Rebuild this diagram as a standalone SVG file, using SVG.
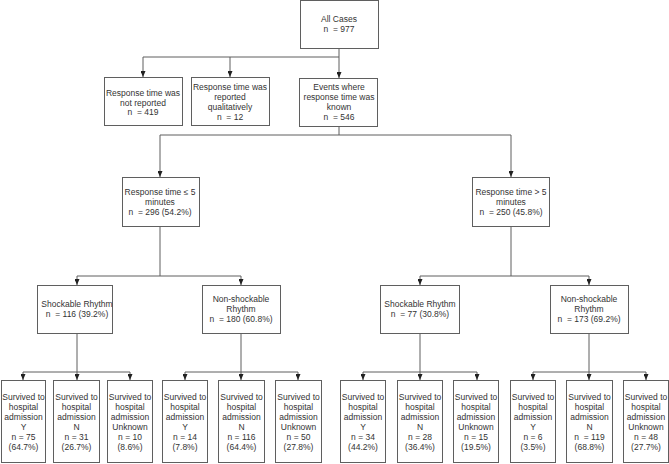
<svg xmlns="http://www.w3.org/2000/svg" width="669" height="464" viewBox="0 0 669 464">
<style>
.b{fill:#fff;stroke:#5f5f5f;stroke-width:1}
.t{font-family:"Liberation Sans",Arial,sans-serif;font-size:8.5px;fill:#333;text-anchor:middle;white-space:pre}
.c{fill:none;stroke:#5f5f5f;stroke-width:1}
</style>
<defs>
<marker id="a" viewBox="0 0 6 5" refX="6" refY="2.5" markerWidth="6" markerHeight="5" orient="auto" markerUnits="userSpaceOnUse">
<path d="M0,0L6,2.5L0,5z" fill="#222"/>
</marker>
</defs>
<rect width="669" height="464" fill="#fff"/>
<g id="connectors">
<path class="c" d="M339,48V78" marker-end="url(#a)"/>
<path class="c" d="M339,57H143V77" marker-end="url(#a)"/>
<path class="c" d="M230,57V77" marker-end="url(#a)"/>
<path class="c" d="M339,126V135H160V177" marker-end="url(#a)"/>
<path class="c" d="M339,135H511V177" marker-end="url(#a)"/>
<path class="c" d="M160,226V276H77V285" marker-end="url(#a)"/>
<path class="c" d="M160,276H241V285" marker-end="url(#a)"/>
<path class="c" d="M511,226V276H420V285" marker-end="url(#a)"/>
<path class="c" d="M511,276H589V285" marker-end="url(#a)"/>
<path class="c" d="M77,333V380" marker-end="url(#a)"/>
<path class="c" d="M77,372H23V380" marker-end="url(#a)"/>
<path class="c" d="M77,372H130V380" marker-end="url(#a)"/>
<path class="c" d="M241,333V380" marker-end="url(#a)"/>
<path class="c" d="M241,372H185V380" marker-end="url(#a)"/>
<path class="c" d="M241,372H298V380" marker-end="url(#a)"/>
<path class="c" d="M420,333V380" marker-end="url(#a)"/>
<path class="c" d="M420,372H363V380" marker-end="url(#a)"/>
<path class="c" d="M420,372H477V380" marker-end="url(#a)"/>
<path class="c" d="M589,333V380" marker-end="url(#a)"/>
<path class="c" d="M589,372H533V380" marker-end="url(#a)"/>
<path class="c" d="M589,372H646V380" marker-end="url(#a)"/>
</g>
<g id="all">
<rect class="b" x="300.5" y="0.5" width="78" height="48"/>
<text class="t" x="339" y="22">All Cases</text>
<text class="t" x="339" y="32">n  = 977</text>
</g>
<g id="notreported">
<rect class="b" x="104.5" y="77.5" width="78" height="48"/>
<text class="t" x="143" y="96">Response time was</text>
<text class="t" x="143" y="105.5">not reported</text>
<text class="t" x="143" y="115">n  = 419</text>
</g>
<g id="qualitative">
<rect class="b" x="191.5" y="77.5" width="78" height="48"/>
<text class="t" x="230" y="90">Response time was</text>
<text class="t" x="230" y="100">reported</text>
<text class="t" x="230" y="110">qualitatively</text>
<text class="t" x="230" y="120">n  = 12</text>
</g>
<g id="known">
<rect class="b" x="299.5" y="78.5" width="78" height="48"/>
<text class="t" x="339" y="90">Events where</text>
<text class="t" x="339" y="100">response time was</text>
<text class="t" x="339" y="110">known</text>
<text class="t" x="339" y="120">n  = 546</text>
</g>
<g id="le5">
<rect class="b" x="122.5" y="177.5" width="77" height="49"/>
<text class="t" x="160" y="195">Response time ≤ 5</text>
<text class="t" x="160" y="205">minutes</text>
<text class="t" x="160" y="214.5">n  = 296 (54.2%)</text>
</g>
<g id="gt5">
<rect class="b" x="472.5" y="177.5" width="77" height="49"/>
<text class="t" x="511" y="195">Response time &gt; 5</text>
<text class="t" x="511" y="205">minutes</text>
<text class="t" x="511" y="214.5">n  = 250 (45.8%)</text>
</g>
<g id="shock1">
<rect class="b" x="37.5" y="285.5" width="75" height="48"/>
<text class="t" x="77" y="307">Shockable Rhythm</text>
<text class="t" x="77" y="317">n  = 116 (39.2%)</text>
</g>
<g id="nonshock1">
<rect class="b" x="202.5" y="285.5" width="78" height="48"/>
<text class="t" x="241" y="302">Non-shockable</text>
<text class="t" x="241" y="312">Rhythm</text>
<text class="t" x="241" y="321.5">n  = 180 (60.8%)</text>
</g>
<g id="shock2">
<rect class="b" x="380.5" y="285.5" width="79" height="48"/>
<text class="t" x="420" y="307">Shockable Rhythm</text>
<text class="t" x="420" y="317">n  = 77 (30.8%)</text>
</g>
<g id="nonshock2">
<rect class="b" x="550.5" y="285.5" width="78" height="48"/>
<text class="t" x="589" y="302">Non-shockable</text>
<text class="t" x="589" y="312">Rhythm</text>
<text class="t" x="589" y="321.5">n  = 173 (69.2%)</text>
</g>
<g id="s1y">
<rect class="b" x="1.5" y="380.5" width="44" height="82"/>
<text class="t" x="23.5" y="400">Survived to</text><text class="t" x="23.5" y="410">hospital</text><text class="t" x="23.5" y="420">admission</text><text class="t" x="23.5" y="430">Y</text><text class="t" x="23.5" y="440">n = 75</text><text class="t" x="23.5" y="450">(64.7%)</text>
</g>
<g id="s1n">
<rect class="b" x="53.5" y="380.5" width="46" height="82"/>
<text class="t" x="76.5" y="400">Survived to</text><text class="t" x="76.5" y="410">hospital</text><text class="t" x="76.5" y="420">admission</text><text class="t" x="76.5" y="430">N</text><text class="t" x="76.5" y="440">n = 31</text><text class="t" x="76.5" y="450">(26.7%)</text>
</g>
<g id="s1u">
<rect class="b" x="107.5" y="380.5" width="45" height="82"/>
<text class="t" x="130" y="400">Survived to</text><text class="t" x="130" y="410">hospital</text><text class="t" x="130" y="420">admission</text><text class="t" x="130" y="430">Unknown</text><text class="t" x="130" y="440">n = 10</text><text class="t" x="130" y="450">(8.6%)</text>
</g>
<g id="n1y">
<rect class="b" x="162.5" y="380.5" width="45" height="82"/>
<text class="t" x="185" y="400">Survived to</text><text class="t" x="185" y="410">hospital</text><text class="t" x="185" y="420">admission</text><text class="t" x="185" y="430">Y</text><text class="t" x="185" y="440">n = 14</text><text class="t" x="185" y="450">(7.8%)</text>
</g>
<g id="n1n">
<rect class="b" x="218.5" y="380.5" width="46" height="82"/>
<text class="t" x="241.5" y="400">Survived to</text><text class="t" x="241.5" y="410">hospital</text><text class="t" x="241.5" y="420">admission</text><text class="t" x="241.5" y="430">N</text><text class="t" x="241.5" y="440">n = 116</text><text class="t" x="241.5" y="450">(64.4%)</text>
</g>
<g id="n1u">
<rect class="b" x="275.5" y="380.5" width="46" height="82"/>
<text class="t" x="298.5" y="400">Survived to</text><text class="t" x="298.5" y="410">hospital</text><text class="t" x="298.5" y="420">admission</text><text class="t" x="298.5" y="430">Unknown</text><text class="t" x="298.5" y="440">n = 50</text><text class="t" x="298.5" y="450">(27.8%)</text>
</g>
<g id="s2y">
<rect class="b" x="340.5" y="380.5" width="45" height="82"/>
<text class="t" x="363" y="400">Survived to</text><text class="t" x="363" y="410">hospital</text><text class="t" x="363" y="420">admission</text><text class="t" x="363" y="430">Y</text><text class="t" x="363" y="440">n = 34</text><text class="t" x="363" y="450">(44.2%)</text>
</g>
<g id="s2n">
<rect class="b" x="397.5" y="380.5" width="45" height="82"/>
<text class="t" x="420" y="400">Survived to</text><text class="t" x="420" y="410">hospital</text><text class="t" x="420" y="420">admission</text><text class="t" x="420" y="430">N</text><text class="t" x="420" y="440">n = 28</text><text class="t" x="420" y="450">(36.4%)</text>
</g>
<g id="s2u">
<rect class="b" x="453.5" y="380.5" width="45" height="82"/>
<text class="t" x="476" y="400">Survived to</text><text class="t" x="476" y="410">hospital</text><text class="t" x="476" y="420">admission</text><text class="t" x="476" y="430">Unknown</text><text class="t" x="476" y="440">n = 15</text><text class="t" x="476" y="450">(19.5%)</text>
</g>
<g id="n2y">
<rect class="b" x="510.5" y="380.5" width="45" height="82"/>
<text class="t" x="533" y="400">Survived to</text><text class="t" x="533" y="410">hospital</text><text class="t" x="533" y="420">admission</text><text class="t" x="533" y="430">Y</text><text class="t" x="533" y="440">n = 6</text><text class="t" x="533" y="450">(3.5%)</text>
</g>
<g id="n2n">
<rect class="b" x="566.5" y="380.5" width="46" height="82"/>
<text class="t" x="589.5" y="400">Survived to</text><text class="t" x="589.5" y="410">hospital</text><text class="t" x="589.5" y="420">admission</text><text class="t" x="589.5" y="430">N</text><text class="t" x="589.5" y="440">n  = 119</text><text class="t" x="589.5" y="450">(68.8%)</text>
</g>
<g id="n2u">
<rect class="b" x="623.5" y="380.5" width="45" height="82"/>
<text class="t" x="646" y="400">Survived to</text><text class="t" x="646" y="410">hospital</text><text class="t" x="646" y="420">admission</text><text class="t" x="646" y="430">Unknown</text><text class="t" x="646" y="440">n = 48</text><text class="t" x="646" y="450">(27.7%)</text>
</g>
</svg>
